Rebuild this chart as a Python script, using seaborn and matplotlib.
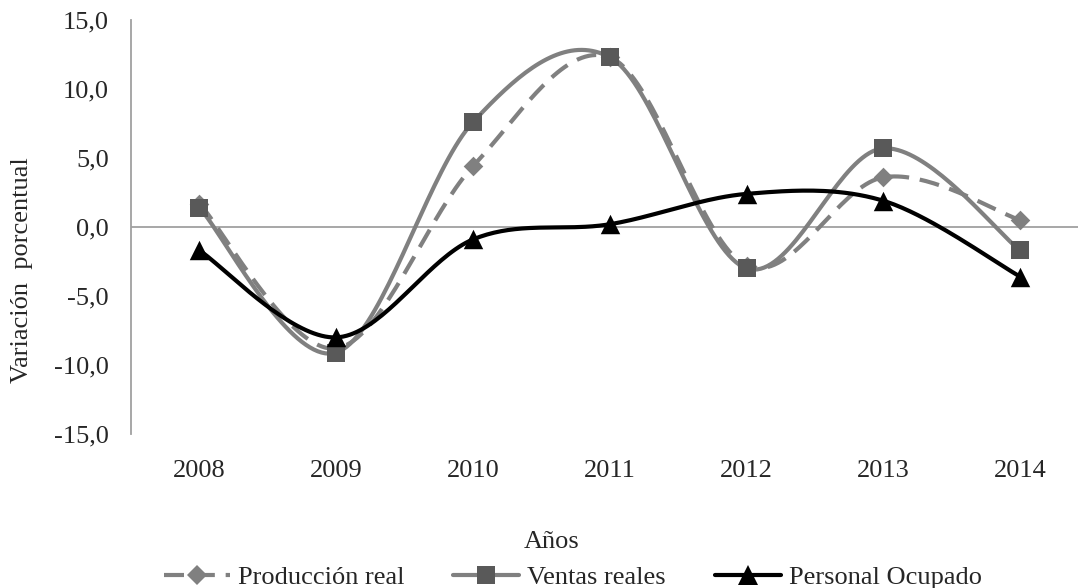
import numpy as np
import pandas as pd
import matplotlib
matplotlib.use("Agg")
import matplotlib.pyplot as plt
import seaborn as sns
from matplotlib.lines import Line2D

years = ["2008", "2009", "2010", "2011", "2012", "2013", "2014"]
produccion = [1.7, -8.8, 4.4, 12.3, -2.8, 3.6, 0.5]
ventas = [1.4, -9.1, 7.6, 12.3, -3.0, 5.7, -1.7]
personal = [-1.7, -8.0, -0.9, 0.2, 2.4, 1.9, -3.6]


def smooth(xs, ys, n=40):
    # Excel-style smoothed line (cubic Bezier through the points)
    xs = np.asarray(xs, float)
    ys = np.asarray(ys, float)
    px = np.concatenate([[xs[0]], xs, [xs[-1]]])
    py = np.concatenate([[ys[0]], ys, [ys[-1]]])
    ox, oy = [], []
    t = np.linspace(0, 1, n)
    for i in range(1, len(px) - 2):
        p0 = np.array([px[i], py[i]])
        p3 = np.array([px[i + 1], py[i + 1]])
        c1 = p0 + (np.array([px[i + 1], py[i + 1]]) - np.array([px[i - 1], py[i - 1]])) / 6
        c2 = p3 - (np.array([px[i + 2], py[i + 2]]) - np.array([px[i], py[i]])) / 6
        b = ((1 - t) ** 3)[:, None] * p0 + (3 * (1 - t) ** 2 * t)[:, None] * c1 \
            + (3 * (1 - t) * t ** 2)[:, None] * c2 + (t ** 3)[:, None] * p3
        ox.extend(b[:, 0])
        oy.extend(b[:, 1])
    return pd.DataFrame({"x": ox, "y": oy})


sns.set_style("white")
plt.rcParams["font.family"] = ["Liberation Serif", "DejaVu Serif"]

fig = plt.figure(figsize=(10.78, 5.88), dpi=100)
ax = fig.add_axes([131 / 1078, 154 / 588, 957.6 / 1078, 414 / 588])

x = np.arange(len(years))
# name, values, line colour, marker colour, marker, linestyle, marker size (pt)
series = [
    ("Producción real", produccion, "#808080", "#808080", "D", (0, (4.8, 2.6)), 10),
    ("Ventas reales", ventas, "#808080", "#595959", "s", "-", 12.5),
    ("Personal Ocupado", personal, "#000000", "#000000", "^", "-", 14),
]

handles = []
for name, vals, lc, mc, mk, ls, ms in series:
    curve = smooth(x, vals)
    sns.lineplot(data=curve, x="x", y="y", sort=False, ax=ax, color=lc,
                 linewidth=3.0, linestyle=ls, estimator=None)
    pts = pd.DataFrame({"x": x, "y": vals})
    sns.scatterplot(data=pts, x="x", y="y", ax=ax, marker=mk, s=ms ** 2,
                    color=mc, edgecolor=mc, linewidth=0, zorder=5)
    handles.append(Line2D([], [], color=lc, linewidth=3.0, linestyle=ls,
                          marker=mk, markersize=ms, markerfacecolor=mc,
                          markeredgecolor=mc, markeredgewidth=0))

ax.axhline(0, color="#a0a0a0", linewidth=1.3, zorder=1)
ax.set_xlim(-0.5, 6.5)
ax.set_ylim(-15, 15)
ax.set_yticks(np.arange(-15, 16, 5))
ax.set_yticklabels([f"{v:.1f}".replace(".", ",") for v in np.arange(-15, 16, 5)], fontsize=19)
ax.set_xticks(x)
ax.set_xticklabels(years, fontsize=19)
ax.tick_params(axis="both", length=0)
ax.tick_params(axis="x", pad=19)
ax.tick_params(axis="y", pad=16)
for s in ["top", "right", "bottom"]:
    ax.spines[s].set_visible(False)
ax.spines["left"].set_color("#a0a0a0")
ax.spines["left"].set_linewidth(1.3)
ax.set_xlabel("")
ax.set_ylabel("")

fig.text(22 / 1078, 1 - 270 / 588, "Variación  porcentual", rotation=90,
         ha="center", va="center", fontsize=19)
fig.text(552 / 1078, 1 - 542 / 588, "Años", ha="center", va="center", fontsize=19)

fig.legend(handles, [s[0] for s in series], loc="center", ncol=3,
           bbox_to_anchor=(573 / 1078, 1 - 577 / 588), frameon=False,
           fontsize=19, handlelength=2.5, handletextpad=0.3, columnspacing=1.85,
           borderpad=0)

fig.savefig("out.png", dpi=100)
